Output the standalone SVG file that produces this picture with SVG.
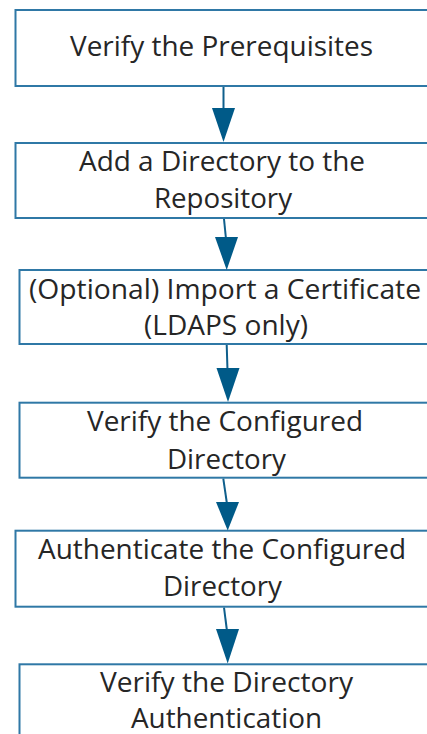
<svg xmlns="http://www.w3.org/2000/svg" width="427" height="734" viewBox="0 0 427 734">
  <style>
    .box { fill: #ffffff; stroke: #2f78a6; stroke-width: 2; }
    .lbl { font-family: "Open Sans", "Noto Sans", sans-serif; font-size: 28px; fill: #262626; }
    .wire { stroke: #0f5f8c; stroke-width: 2; fill: none; }
    .head { fill: #005a88; }
  </style>
  <rect width="427" height="734" fill="#ffffff"/>

  <g id="n1">
    <rect class="box" x="15.5" y="10" width="440" height="76"/>
    <text class="lbl" x="70" y="56" textLength="303" lengthAdjust="spacingAndGlyphs">Verify the Prerequisites</text>
  </g>

  <g id="n2">
    <rect class="box" x="15.5" y="143" width="440" height="75"/>
    <text class="lbl" x="79" y="171" textLength="286" lengthAdjust="spacingAndGlyphs">Add a Directory to the</text>
    <text class="lbl" x="154" y="208" textLength="138" lengthAdjust="spacingAndGlyphs">Repository</text>
  </g>

  <g id="n3">
    <rect class="box" x="19.5" y="270" width="440" height="74"/>
    <text class="lbl" x="29" y="299" textLength="392" lengthAdjust="spacingAndGlyphs">(Optional) Import a Certificate</text>
    <text class="lbl" x="144" y="335" textLength="164" lengthAdjust="spacingAndGlyphs">(LDAPS only)</text>
  </g>

  <g id="n4">
    <rect class="box" x="19.5" y="402.7" width="440" height="75"/>
    <text class="lbl" x="87" y="431" textLength="276" lengthAdjust="spacingAndGlyphs">Verify the Configured</text>
    <text class="lbl" x="167" y="469" textLength="119" lengthAdjust="spacingAndGlyphs">Directory</text>
  </g>

  <g id="n5">
    <rect class="box" x="15.5" y="530.7" width="440" height="76"/>
    <text class="lbl" x="38" y="559" textLength="368" lengthAdjust="spacingAndGlyphs">Authenticate the Configured</text>
    <text class="lbl" x="163" y="596" textLength="119" lengthAdjust="spacingAndGlyphs">Directory</text>
  </g>

  <g id="n6">
    <rect class="box" x="19.5" y="664.3" width="440" height="100"/>
    <text class="lbl" x="100" y="692" textLength="253" lengthAdjust="spacingAndGlyphs">Verify the Directory</text>
    <text class="lbl" x="131" y="728" textLength="191" lengthAdjust="spacingAndGlyphs">Authentication</text>
  </g>

  <g id="connectors">
    <line class="wire" x1="223.5" y1="87" x2="223.5" y2="110"/>
    <polygon class="head" points="212,108 235,108 223.5,142"/>

    <line class="wire" x1="224" y1="219" x2="226" y2="239"/>
    <polygon class="head" points="215,237 238,237 226.7,270"/>

    <line class="wire" x1="226.7" y1="345" x2="227.5" y2="370"/>
    <polygon class="head" points="216.5,368 239.5,368 228,402"/>

    <line class="wire" x1="223.3" y1="478.7" x2="227" y2="504"/>
    <polygon class="head" points="216,502 239,502 227.7,530.5"/>

    <line class="wire" x1="224" y1="607.7" x2="227" y2="631"/>
    <polygon class="head" points="216,629 239,629 227.7,663.5"/>
  </g>
</svg>
